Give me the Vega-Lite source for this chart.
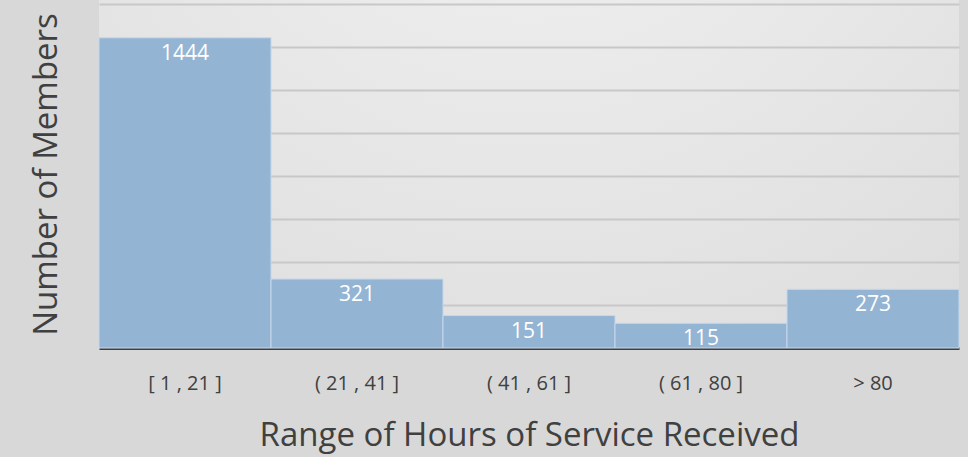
{
  "$schema": "https://vega.github.io/schema/vega-lite/v6.json",
  "width": 860,
  "height": 348,
  "autosize": {"type": "none"},
  "padding": {"left": 99, "top": 0, "right": 9, "bottom": 109},
  "background": "#d8d8d8",
  "config": {
    "font": "Open Sans",
    "view": {
      "stroke": null,
      "fill": {
        "gradient": "radial",
        "x1": 0.5, "y1": 0, "r1": 0,
        "x2": 0.5, "y2": 0, "r2": 1.1,
        "stops": [
          {"offset": 0, "color": "#f4f4f4"},
          {"offset": 1, "color": "#d6d6d6"}
        ]
      }
    }
  },
  "data": {
    "values": [
      {"range": "[ 1 , 21 ]", "count": 1444},
      {"range": "( 21 , 41 ]", "count": 321},
      {"range": "( 41 , 61 ]", "count": 151},
      {"range": "( 61 , 80 ]", "count": 115},
      {"range": "> 80", "count": 273}
    ]
  },
  "encoding": {
    "x": {
      "field": "range",
      "type": "nominal",
      "sort": null,
      "scale": {"paddingInner": 0, "paddingOuter": 0},
      "axis": {
        "title": "Range of Hours of Service Received",
        "titleFont": "Open Sans",
        "titleFontSize": 33,
        "titleFontWeight": "normal",
        "titleColor": "#404040",
        "titlePadding": 26,
        "labelAngle": 0,
        "labelFont": "Open Sans",
        "labelFontSize": 20,
        "labelColor": "#404040",
        "labelPadding": 25,
        "ticks": false,
        "domainColor": "#404040",
        "domainWidth": 3,
        "grid": false
      }
    },
    "y": {
      "field": "count",
      "type": "quantitative",
      "scale": {"domain": [0, 1620], "nice": false},
      "axis": {
        "title": "Number of Members",
        "titleFont": "Open Sans",
        "titleFontSize": 33,
        "titleFontWeight": "normal",
        "titleColor": "#404040",
        "titlePadding": 36,
        "labels": false,
        "ticks": false,
        "domain": false,
        "values": [200, 400, 600, 800, 1000, 1200, 1400, 1600],
        "gridColor": "#c8c8c8",
        "gridWidth": 2
      }
    }
  },
  "layer": [
    {
      "mark": {"type": "bar", "color": "#94b4d3", "stroke": "#c6d8ea", "strokeWidth": 1}
    },
    {
      "mark": {"type": "text", "color": "white", "fontSize": 21, "font": "Open Sans", "baseline": "middle", "dy": 16},
      "encoding": {"text": {"field": "count", "type": "quantitative"}}
    }
  ]
}
